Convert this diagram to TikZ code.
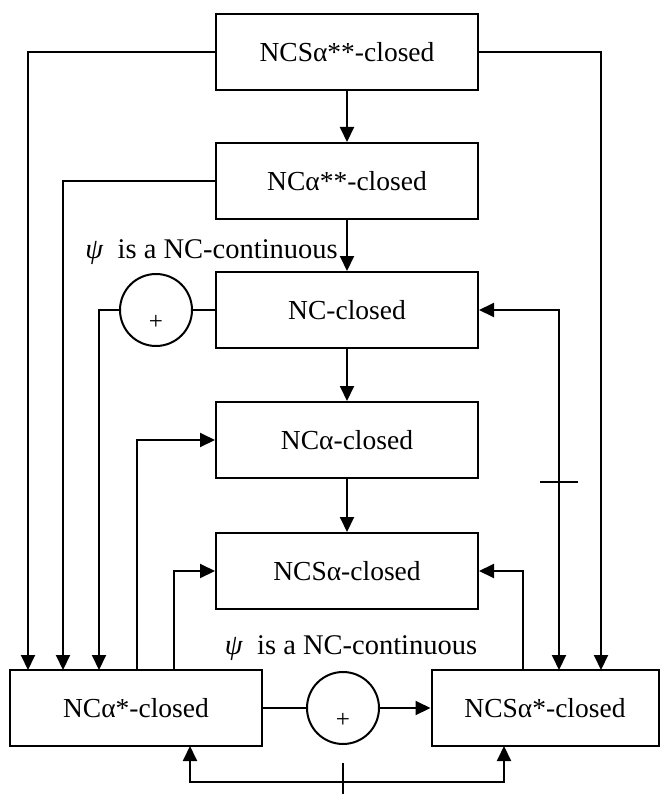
\documentclass[tikz,border=0pt]{standalone}
\usepackage{fontspec}
\setmainfont{Liberation Serif}
\usetikzlibrary{arrows.meta}
\tikzset{
  box/.style={draw, line width=2pt, minimum width=262pt, minimum height=76pt, inner sep=0pt,
    font=\fontsize{27.5}{32}\selectfont},
  sumnode/.style={draw, circle, line width=2pt, minimum size=72pt, inner sep=0pt},
  conn/.style={line width=2pt},
  thin conn/.style={line width=1.5pt},
  arr/.style={conn, -{Triangle[length=15pt,width=14pt]}},
  darr/.style={conn, {Triangle[length=15pt,width=14pt]}-{Triangle[length=15pt,width=14pt]}},
  lbl/.style={font=\fontsize{28.5}{32}\selectfont, inner sep=0pt}
}
% the plus sign sits below the centre of its circle
\newcommand{\plussign}{\raisebox{-19pt}[0pt][0pt]{\fontsize{25}{25}\selectfont +}}
\begin{document}
\begin{tikzpicture}[x=1pt, y=-1pt]
  \useasboundingbox (0,0) rectangle (664,794);

  % main column
  \node[box] (b1) at (347,52) {NCSα**-closed};
  \node[box] (b2) at (347,181) {NCα**-closed};
  \node[box] (b3) at (347,310) {NC-closed};
  \node[box] (b4) at (347,440) {NCα-closed};
  \node[box] (b5) at (347,571) {NCSα-closed};

  % bottom row
  \node[box, minimum width=252pt] (b6) at (136,708) {NCα*-closed};
  \node[box, minimum width=227pt] (b7) at (545,708) {NCSα*-closed};

  % summing junctions
  \node[sumnode] (c1) at (156,310) {\plussign};
  \node[sumnode] (c2) at (343,708) {\plussign};

  % labels
  \node[lbl, anchor=east] (l1) at (338,252) {\textit{ψ}\ \ is a NC-continuous};
  \node[lbl] (l2) at (351,648) {\textit{ψ}\ \ is a NC-continuous};

  % entry and exit points on the bottom boxes
  \coordinate (t1) at (28,670);
  \coordinate (t2) at (63,670);
  \coordinate (t3) at (99,670);
  \coordinate (s1) at (137,670);
  \coordinate (s2) at (174,670);
  \coordinate (s3) at (523,670);
  \coordinate (r2) at (559,670);
  \coordinate (r3) at (601,670);
  \coordinate (u1) at (190,746);
  \coordinate (u2) at (504,746);
  \coordinate (m) at (343,782);
  \coordinate (k1) at (540,482);
  \coordinate (k2) at (578,482);
  \coordinate (k3) at (343,763);
  \coordinate (k4) at (343,794);

  % vertical chain
  \draw[arr] (b1.south) -- (b2.north);
  \draw[arr] (b2.south) -- (b3.north);
  \draw[arr] (b3.south) -- (b4.north);
  \draw[arr] (b4.south) -- (b5.north);

  % long feeds into the bottom boxes
  \draw[arr] (b1.west) -| (t1);
  \draw[arr] (b1.east) -| (r3);
  \draw[arr] (b2.west) -| (t2);
  \draw[thin conn] (b3.west) -- (c1.east);
  \draw[arr] (c1.west) -| (t3);

  % feeds up from the bottom boxes
  \draw[arr] (s1) |- (b4.west);
  \draw[arr] (s2) |- (b5.west);
  \draw[arr] (s3) |- (b5.east);
  \draw[darr] (b3.east) -| (r2);
  \draw[conn] (k1) -- (k2);

  % bottom row links
  \draw[thin conn] (b6.east) -- (c2.west);
  \draw[arr] (c2.east) -- (b7.west);
  \draw[darr] (u1) |- (m) -| (u2);
  \draw[conn] (k3) -- (k4);
\end{tikzpicture}
\end{document}
